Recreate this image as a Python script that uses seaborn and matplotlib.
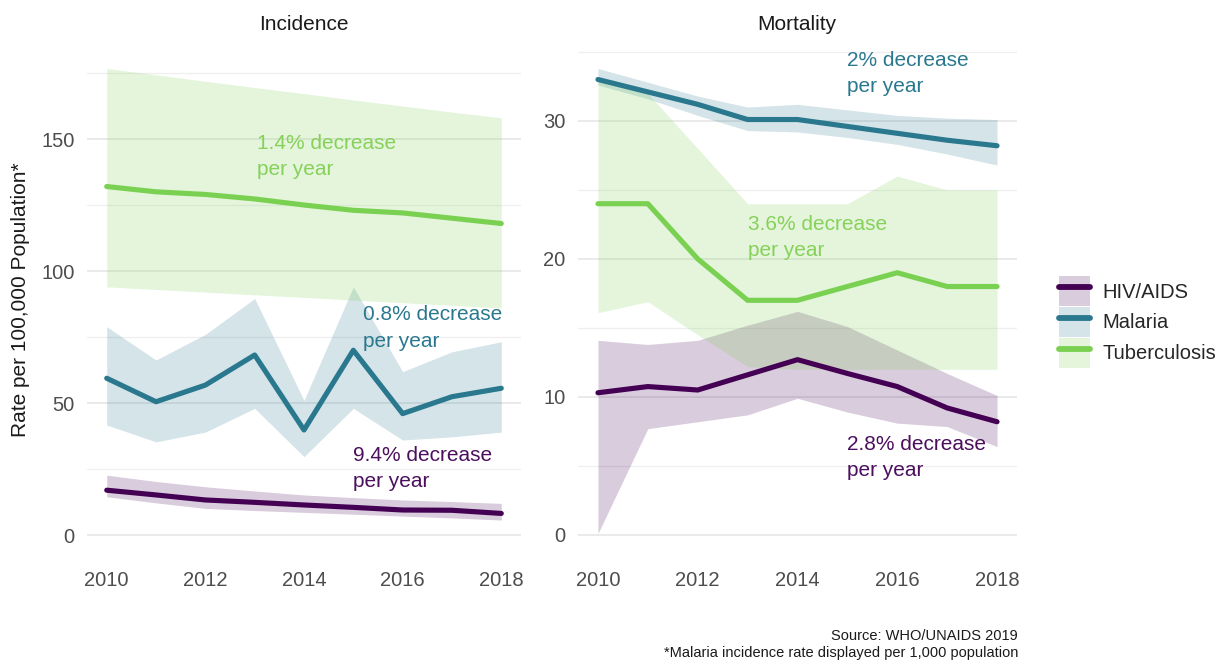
import numpy as np
import pandas as pd
import matplotlib
matplotlib.use("Agg")
import matplotlib.pyplot as plt
import seaborn as sns
from matplotlib.patches import Patch
from matplotlib.lines import Line2D

# ---------------- data ----------------
years = [2010, 2011, 2012, 2013, 2014, 2015, 2016, 2017, 2018]
diseases = ["HIV/AIDS", "Malaria", "Tuberculosis"]
panel_titles = ["Incidence", "Mortality"]

# Incidence (rate per 100,000; malaria per 1,000)
inc_hiv = [17.0, 15.2, 13.3, 12.4, 11.4, 10.5, 9.5, 9.4, 8.2]
inc_hiv_lo = [14.5, 12.2, 10.1, 9.3, 8.6, 7.9, 7.2, 6.5, 5.7]
inc_hiv_hi = [22.7, 20.3, 18.3, 16.7, 15.2, 14.2, 13.3, 12.7, 12.0]

inc_mal = [59.4, 50.5, 56.8, 68.2, 39.8, 70.0, 46.0, 52.4, 55.6]
inc_mal_lo = [41.7, 35.3, 39.0, 48.0, 29.7, 48.0, 36.0, 37.2, 39.0]
inc_mal_hi = [78.9, 66.3, 76.0, 89.6, 51.0, 94.0, 61.9, 69.4, 73.2]

inc_tb = [132.0, 130.0, 129.0, 127.3, 125.0, 123.0, 122.0, 120.0, 118.0]
inc_tb_lo = [94.0, 93.0, 92.0, 91.0, 90.0, 89.0, 88.0, 87.0, 86.0]
inc_tb_hi = [176.7, 174.3, 171.9, 169.5, 167.2, 164.8, 162.5, 160.2, 158.0]

# Mortality (rate per 100,000)
mort_hiv = [10.3, 10.75, 10.5, 11.6, 12.7, 11.7, 10.75, 9.2, 8.2]
mort_hiv_lo = [0.1, 7.7, 8.2, 8.7, 9.9, 8.9, 8.1, 7.85, 6.4]
mort_hiv_hi = [14.1, 13.8, 14.1, 15.2, 16.2, 15.1, 13.4, 11.7, 10.1]

mort_mal = [33.0, 32.1, 31.2, 30.1, 30.1, 29.6, 29.1, 28.6, 28.2]
mort_mal_lo = [32.6, 31.6, 30.4, 29.3, 29.2, 28.8, 28.3, 27.6, 26.8]
mort_mal_hi = [33.8, 32.8, 31.8, 31.0, 31.2, 30.8, 30.4, 30.2, 30.1]

mort_tb = [24.0, 24.0, 20.0, 17.0, 17.0, 18.0, 19.0, 18.0, 18.0]
mort_tb_lo = [16.1, 16.9, 14.5, 12.2, 12.0, 12.0, 12.0, 12.0, 12.0]
mort_tb_hi = [33.0, 32.0, 28.0, 24.0, 24.0, 24.0, 26.0, 25.0, 25.0]

annot_inc = ["9.4% decrease\nper year", "0.8% decrease\nper year", "1.4% decrease\nper year"]
annot_mort = ["2.8% decrease\nper year", "2% decrease\nper year", "3.6% decrease\nper year"]

source_text = "Source: WHO/UNAIDS 2019"
note_text = "*Malaria incidence rate displayed per 1,000 population"
ylabel = "Rate per 100,000 Population*"


def long_frame(vals, lo, hi):
    rows = []
    for d, v, l, h in zip(diseases, vals, lo, hi):
        for y, a, b, c in zip(years, v, l, h):
            rows.append({"year": y, "disease": d, "value": a, "lo": b, "hi": c})
    return pd.DataFrame(rows)


df_inc = long_frame([inc_hiv, inc_mal, inc_tb],
                    [inc_hiv_lo, inc_mal_lo, inc_tb_lo],
                    [inc_hiv_hi, inc_mal_hi, inc_tb_hi])
df_mort = long_frame([mort_hiv, mort_mal, mort_tb],
                     [mort_hiv_lo, mort_mal_lo, mort_tb_lo],
                     [mort_hiv_hi, mort_mal_hi, mort_tb_hi])

# ---------------- style ----------------
colors = {"HIV/AIDS": "#440154", "Malaria": "#2A788E", "Tuberculosis": "#7AD151"}
text_colors = {"HIV/AIDS": "#4B0F5E", "Malaria": "#2A788E", "Tuberculosis": "#86D15A"}

sns.set_theme(style="white")
plt.rcParams["font.family"] = ["Liberation Sans", "DejaVu Sans"]

W, H = 1224, 666
fig = plt.figure(figsize=(W / 100, H / 100), dpi=100)


def px_axes(x0, x1, y0, y1):
    return fig.add_axes([x0 / W, 1 - y1 / H, (x1 - x0) / W, (y1 - y0) / H])


ax_inc = px_axes(87, 521, 45, 557)
ax_mort = px_axes(578, 1017, 45, 557)

panels = [
    (ax_inc, df_inc, (-8.3, 185.6), [0, 50, 100, 150], [25, 75, 125, 175], annot_inc,
     [(2015.0, 25.2), (2015.2, 78.4), (2013.05, 143.3)]),
    (ax_mort, df_mort, (-1.6, 35.5), [0, 10, 20, 30], [5, 15, 25, 35], annot_mort,
     [(2015.0, 5.6), (2015.0, 33.45), (2013.0, 21.55)]),
]

for ax, df, ylim, majors, minors, annots, apos in panels:
    for d in diseases:
        sub = df[df["disease"] == d]
        ax.fill_between(sub["year"], sub["lo"], sub["hi"], color=colors[d],
                        alpha=0.2, linewidth=0, zorder=1)
    sns.lineplot(data=df, x="year", y="value", hue="disease", hue_order=diseases,
                 palette=colors, linewidth=3.7, legend=False, ax=ax, zorder=3)
    for d, txt, (tx, ty) in zip(diseases, annots, apos):
        ax.text(tx, ty, txt, color=text_colors[d], fontsize=15, ha="left",
                va="center", linespacing=1.5, zorder=4)
    ax.set_xlim(2009.6, 2018.4)
    ax.set_ylim(*ylim)
    ax.set_xticks([2010, 2012, 2014, 2016, 2018])
    ax.set_yticks(majors)
    ax.set_yticks(minors, minor=True)
    ax.grid(False)
    ax.grid(axis="y", which="major", color="#E6E6E6", linewidth=1.2, zorder=0)
    ax.grid(axis="y", which="minor", color="#EFEFEF", linewidth=0.9, zorder=0)
    ax.set_axisbelow(True)
    for s in ax.spines.values():
        s.set_visible(False)
    ax.tick_params(axis="both", which="both", length=0, labelsize=14.5,
                   labelcolor="#4D4D4D")
    ax.tick_params(axis="y", pad=9)
    ax.tick_params(axis="x", pad=10)
    ax.set_xlabel("")
    ax.set_ylabel("")
    ax.set_facecolor("white")

fig.text(304 / W, 1 - 24 / H, panel_titles[0], ha="center", va="center",
         fontsize=15, color="#1A1A1A")
fig.text(797 / W, 1 - 24 / H, panel_titles[1], ha="center", va="center",
         fontsize=15, color="#1A1A1A")
fig.text(21 / W, 1 - 300 / H, ylabel, rotation=90, ha="center", va="center",
         fontsize=15, color="#1A1A1A")

handles = [(Patch(facecolor=colors[d], alpha=0.2, edgecolor="none"),
            Line2D([], [], color=colors[d], linewidth=4.2)) for d in diseases]
fig.legend(handles, diseases, loc="center left", bbox_to_anchor=(1045 / W, 1 - 322 / H),
           frameon=False, fontsize=14.5, handlelength=1.55, handleheight=1.9,
           labelspacing=0.05, handletextpad=0.6, borderpad=0.2)

fig.text(1018 / W, 1 - 636 / H, source_text, ha="right", va="center",
         fontsize=10.5, color="#1A1A1A")
fig.text(1018 / W, 1 - 653 / H, note_text, ha="right", va="center",
         fontsize=10.5, color="#1A1A1A")

fig.savefig("out.png", dpi=100)
